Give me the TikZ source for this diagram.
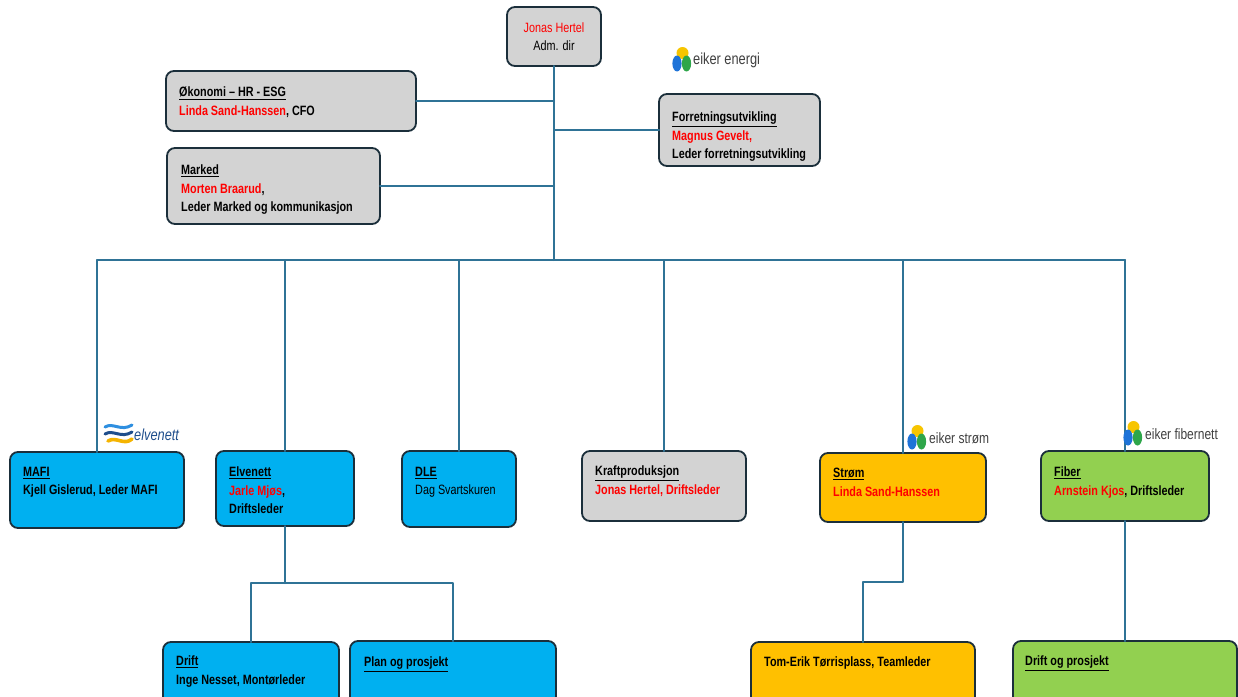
\documentclass[tikz,border=0pt]{standalone}
\usepackage{fontspec}
\setmainfont{Liberation Sans}[FakeStretch=0.8]
\usepackage{tikz}
\usetikzlibrary{positioning}
\usetikzlibrary{calc}

\definecolor{boxline}{HTML}{1B2F3B}
\definecolor{connline}{HTML}{2F7396}
\definecolor{boxgray}{HTML}{D3D3D3}
\definecolor{boxblue}{HTML}{00B0F0}
\definecolor{boxamber}{HTML}{FFC000}
\definecolor{boxgreen}{HTML}{92D050}
\definecolor{textred}{HTML}{FF0000}
\definecolor{logoyellow}{HTML}{F7C500}
\definecolor{logoblue}{HTML}{1E73D8}
\definecolor{logogreen}{HTML}{2EA64A}
\definecolor{logotext}{HTML}{404040}
\definecolor{elvblue}{HTML}{1F4E8C}
\definecolor{elvlight}{HTML}{2E8FE0}
\definecolor{elvyellow}{HTML}{F5B400}

\tikzset{
  box/.style={draw=boxline, line width=1.8pt, rounded corners=8pt, inner sep=0pt, outer sep=0pt, anchor=north west},
  graybox/.style={box, fill=boxgray},
  bluebox/.style={box, fill=boxblue},
  amberbox/.style={box, fill=boxamber},
  greenbox/.style={box, fill=boxgreen},
  txt/.style={align=left, inner sep=0pt, font=\fontsize{13.5}{18.5}\selectfont\bfseries},
  conn/.style={draw=connline, line width=2pt},
  logotxt/.style={inner sep=0pt, anchor=west, text=logotext, font=\fontsize{15}{15}\selectfont},
  eikermark/.pic={
    \fill[logoyellow] (1.5,-6) circle (6);
    \fill[logoblue] (-4,4.5) ellipse (4.6 and 8);
    \fill[logogreen] (5.5,4.5) ellipse (4.6 and 8);
  }
}

\begin{document}
\begin{tikzpicture}[x=1pt,y=-1pt,line cap=round,line join=round]
        \useasboundingbox (0,0) rectangle (1238,696);
        \fill[white] (0,0) rectangle (1238,696);
        \clip (0,0) rectangle (1238,696);
        % top
        \node[graybox, minimum width=94, minimum height=59] (ceo) at (507,7) {};
        \node[txt, font=\fontsize{13.5}{18.5}\selectfont, align=center, yshift=0pt] (ceotxt) at (ceo.center) {{\color{textred}Jonas Hertel}\\Adm. dir};
        %
        \node[graybox, minimum width=250, minimum height=60] (oko) at (166,71) {};
        \node[txt, below right=16pt and 13pt of oko.north west] (okotxt) {\underline{Økonomi – HR - ESG}\\{\color{textred}Linda Sand-Hanssen}, CFO};
        %
        \node[graybox, minimum width=213, minimum height=76] (marked) at (167,148) {};
        \node[txt, below right=17pt and 14pt of marked.north west] (markedtxt) {\underline{Marked}\\{\color{textred}Morten Braarud},\\Leder Marked og kommunikasjon};
        %
        \node[graybox, minimum width=161, minimum height=72] (forr) at (659,94) {};
        \node[txt, below right=18pt and 13pt of forr.north west] (forrtxt) {\underline{Forretningsutvikling}\\{\color{textred}Magnus Gevelt,}\\Leder forretningsutvikling};
        %
        \coordinate (busL) at (97,260);
        \coordinate (busR) at (1125,260);
        \draw[conn] (ceo.south) -- (ceo.south |- busL);
        \draw[conn] (busL) -- (busR);
        \draw[conn] (oko.east) -- (oko.east -| ceo.south);
        \draw[conn] (marked.east) -- (marked.east -| ceo.south);
        \draw[conn] (forr.west) -- (forr.west -| ceo.south);
        % second row
        \node[bluebox, minimum width=174, minimum height=76] (mafi) at (10,452) {};
        \node[txt, below right=15pt and 13pt of mafi.north west] (mafitxt) {\underline{MAFI}\\Kjell Gislerud, Leder MAFI};
        %
        \node[bluebox, minimum width=138, minimum height=75] (elv) at (216,451) {};
        \node[txt, below right=16pt and 13pt of elv.north west] (elvtxt) {\underline{Elvenett}\\{\color{textred}Jarle Mjøs},\\Driftsleder};
        %
        \node[bluebox, minimum width=114, minimum height=76] (dle) at (402,451) {};
        \node[txt, below right=16pt and 13pt of dle.north west] (dletxt) {\underline{DLE}\\{\mdseries Dag Svartskuren}};
        %
        \node[graybox, minimum width=164, minimum height=70] (kraft) at (582,451) {};
        \node[txt, below right=15pt and 13pt of kraft.north west] (krafttxt) {\underline{Kraftproduksjon}\\{\color{textred}Jonas Hertel, Driftsleder}};
        %
        \node[amberbox, minimum width=166, minimum height=69] (strom) at (820,453) {};
        \node[txt, below right=15pt and 13pt of strom.north west] (stromtxt) {\underline{Strøm}\\{\color{textred}Linda Sand-Hanssen}};
        %
        \node[greenbox, minimum width=168, minimum height=70] (fiber) at (1041,451) {};
        \node[txt, below right=16pt and 13pt of fiber.north west] (fibertxt) {\underline{Fiber}\\{\color{textred}Arnstein Kjos}, Driftsleder};
        %
        \foreach \n in {mafi,elv,dle,kraft,strom,fiber}
          \draw[conn] (\n.north) -- (\n.north |- busL);
        % third row
        \node[bluebox, minimum width=176, minimum height=70] (drift) at (163,642) {};
        \node[txt, below right=14pt and 13pt of drift.north west] (drifttxt) {\underline{Drift}\\Inge Nesset, Montørleder};
        %
        \node[bluebox, minimum width=206, minimum height=70] (plan) at (350,641) {};
        \node[txt, below right=16pt and 14pt of plan.north west] (plantxt) {\underline{Plan og prosjekt}};
        %
        \node[amberbox, minimum width=224, minimum height=70] (team) at (751,642) {};
        \node[txt, below right=15pt and 13pt of team.north west] (teamtxt) {Tom-Erik Tørrisplass, Teamleder};
        %
        \node[greenbox, minimum width=224, minimum height=70] (fibsub) at (1013,641) {};
        \node[txt, below right=15pt and 12pt of fibsub.north west] (fibsubtxt) {\underline{Drift og prosjekt}};
        %
        \coordinate (elvj) at (285,583);
        \coordinate (stromj) at (863,582);
        \draw[conn] (elv.south) -- (elvj);
        \draw[conn] (drift.north) |- (elvj) -| (plan.north);
        \draw[conn] (strom.south) |- (stromj) -- (team.north);
        \draw[conn] (fiber.south) -- (fibsub.north);
        % logos
        \pic at (681,59) {eikermark};
        \node[logotxt, font=\fontsize{16}{16}\selectfont] (energitxt) at (693,60) {eiker energi};
        \pic at (916,437) {eikermark};
        \node[logotxt] (stromlogo) at (929,438) {eiker strøm};
        \pic at (1132,433) {eikermark};
        \node[logotxt] (fiberlogo) at (1145,434) {eiker fibernett};
        %
        \draw[elvlight, line width=3pt] (105,427) .. controls (113,422) and (121,432) .. (132,425);
        \draw[elvblue, line width=3pt] (105,434) .. controls (113,429) and (121,439) .. (132,432);
        \draw[elvyellow, line width=3.6pt] (108,441) .. controls (116,436) and (124,446) .. (132,439);
        \node[logotxt, text=elvblue, font=\fontsize{16}{16}\selectfont\itshape] (elvlogo) at (134,435) {elvenett};
      \end{tikzpicture}
\end{document}
